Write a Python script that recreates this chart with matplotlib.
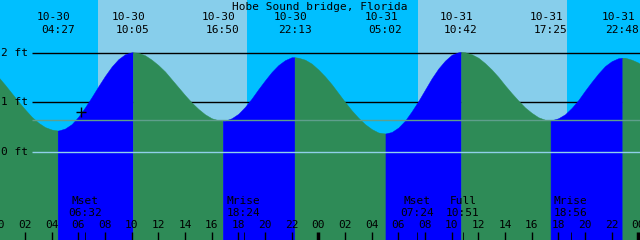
import numpy as np
import matplotlib.pyplot as plt

# tide level (ft), every half hour from 10-30 00:00
hours = np.arange(0, 49, 0.5)
levels = [1.52, 1.36, 1.19, 1.02, 0.86, 0.71, 0.59, 0.50, 0.45, 0.43,
          0.47, 0.56, 0.71, 0.90, 1.11, 1.33, 1.54, 1.73, 1.88, 1.98,
          2.02, 2.01, 1.96, 1.87, 1.76, 1.63, 1.47, 1.31, 1.15, 1.00,
          0.87, 0.76, 0.68, 0.64, 0.63, 0.68, 0.77, 0.91, 1.08, 1.27,
          1.45, 1.62, 1.76, 1.86, 1.92, 1.91, 1.87, 1.79, 1.67, 1.53,
          1.37, 1.19, 1.01, 0.84, 0.69, 0.56, 0.46, 0.39, 0.37, 0.40,
          0.49, 0.63, 0.82, 1.03, 1.26, 1.49, 1.69, 1.85, 1.97, 2.02,
          2.02, 1.98, 1.91, 1.80, 1.67, 1.52, 1.35, 1.19, 1.04, 0.90,
          0.79, 0.70, 0.65, 0.64, 0.68, 0.76, 0.89, 1.05, 1.24, 1.42,
          1.59, 1.74, 1.84, 1.90, 1.91, 1.87, 1.81, 1.70]

# high / low tides
ext_dates = ['10-30', '10-30', '10-30', '10-30', '10-31', '10-31', '10-31', '10-31']
ext_times = ['04:27', '10:05', '16:50', '22:13', '05:02', '10:42', '17:25', '22:48']
ext_levels = [0.43, 2.02, 0.63, 1.92, 0.37, 2.03, 0.64, 1.91]
ext_kind = ['L', 'H', 'L', 'H', 'L', 'H', 'L', 'H']

# sun and moon
sunrise = ['07:29', '07:29']
sunset = ['18:39', '18:38']
moon_names = ['Mset', 'Mrise', 'Mset', 'Full', 'Mrise']
moon_dates = ['10-30', '10-30', '10-31', '10-31', '10-31']
moon_times = ['06:32', '18:24', '07:24', '10:51', '18:56']

now_hour = 6.2
now_level = 0.81
mean_level = 0.64
ft_lines = [2, 1, 0]


def to_hours(date, hm):
    day = 0 if date == '10-30' else 1
    h, m = hm.split(':')
    return day * 24 + int(h) + int(m) / 60.0


ext_hours = [to_hours(d, t) for d, t in zip(ext_dates, ext_times)]
moon_hours = [to_hours(d, t) for d, t in zip(moon_dates, moon_times)]

fig = plt.figure(figsize=(6.4, 2.4), dpi=100)
ax = fig.add_axes([0, 0, 1, 1])
ax.axis('off')
x0, x1 = 0.125, 48.125
y0, y1 = -1.795, 3.083
ax.set_xlim(x0, x1)
ax.set_ylim(y0, y1)
px_h = (x1 - x0) / 640.0
trans = ax.get_xaxis_transform()


def yp(p):
    return 1 - p / 240.0


font = dict(family='DejaVu Sans Mono', fontsize=8, color='black')

# night / day sky
ax.axvspan(x0, x1, color='#00bfff', lw=0, zorder=0)
for d, (sr, ss) in enumerate(zip(sunrise, sunset)):
    date = '10-30' if d == 0 else '10-31'
    ax.axvspan(to_hours(date, sr), to_hours(date, ss), color='#87ceeb', lw=0, zorder=0)

# foot lines under the water
xs = x0 + 32 * px_h
ax.hlines(ft_lines[:2], xs, x1, color='black', lw=1, zorder=1)

# tide fill, blue while rising, green while falling
t_all = np.concatenate([hours, ext_hours])
v_all = np.concatenate([levels, ext_levels])
order = np.argsort(t_all)
t_all, v_all = t_all[order], v_all[order]
bounds = [hours[0]] + ext_hours + [hours[-1]]
kinds = ext_kind + ['L']
for i in range(len(bounds) - 1):
    m = (t_all >= bounds[i]) & (t_all <= bounds[i + 1])
    col = '#0000ff' if kinds[i] == 'H' else '#2e8b57'
    ax.fill_between(t_all[m], v_all[m], y0, color=col, lw=0.3, edgecolor=col, zorder=2)

ax.hlines(mean_level, xs, x1, color='#5f9f8c', lw=1, zorder=3)
ax.hlines(ft_lines[2], xs, x1, color='#8fd0ea', lw=1, zorder=3)
for f in ft_lines:
    ax.text(x0 + 1 * px_h, f, '%d ft' % f, ha='left', va='center', zorder=4, **font)

ax.plot(now_hour, now_level, marker='+', color='black', ms=7, mew=1, zorder=4)

# title and tide labels
ax.text(24.1, yp(6.5), 'Hobe Sound bridge, Florida', transform=trans,
        ha='center', va='center', **font)
for h, d, t in zip(ext_hours, ext_dates, ext_times):
    ax.text(h - 4 * px_h, yp(17), d, transform=trans, ha='center', va='center', **font)
    ax.text(h, yp(30), t, transform=trans, ha='center', va='center', **font)

# moon labels
for h, n, t in zip(moon_hours, moon_names, moon_times):
    ax.text(h, yp(201.5), n, transform=trans, ha='center', va='center', **font)
    ax.text(h, yp(213), t, transform=trans, ha='center', va='center', **font)
    ax.vlines(h, yp(240), yp(232), transform=trans, color='black', lw=0.6, zorder=4)

# hour ticks
for h in range(0, 49, 2):
    ax.text(h, yp(225), '%02d' % (h % 24), transform=trans, ha='center', va='center', **font)
    if h % 24 == 0:
        ax.vlines(h, yp(240), yp(232), transform=trans, color='black', lw=2.5, zorder=4)
    else:
        ax.vlines(h, yp(240), yp(232), transform=trans, color='black', lw=1, zorder=4)

fig.savefig('out.png', dpi=100)
